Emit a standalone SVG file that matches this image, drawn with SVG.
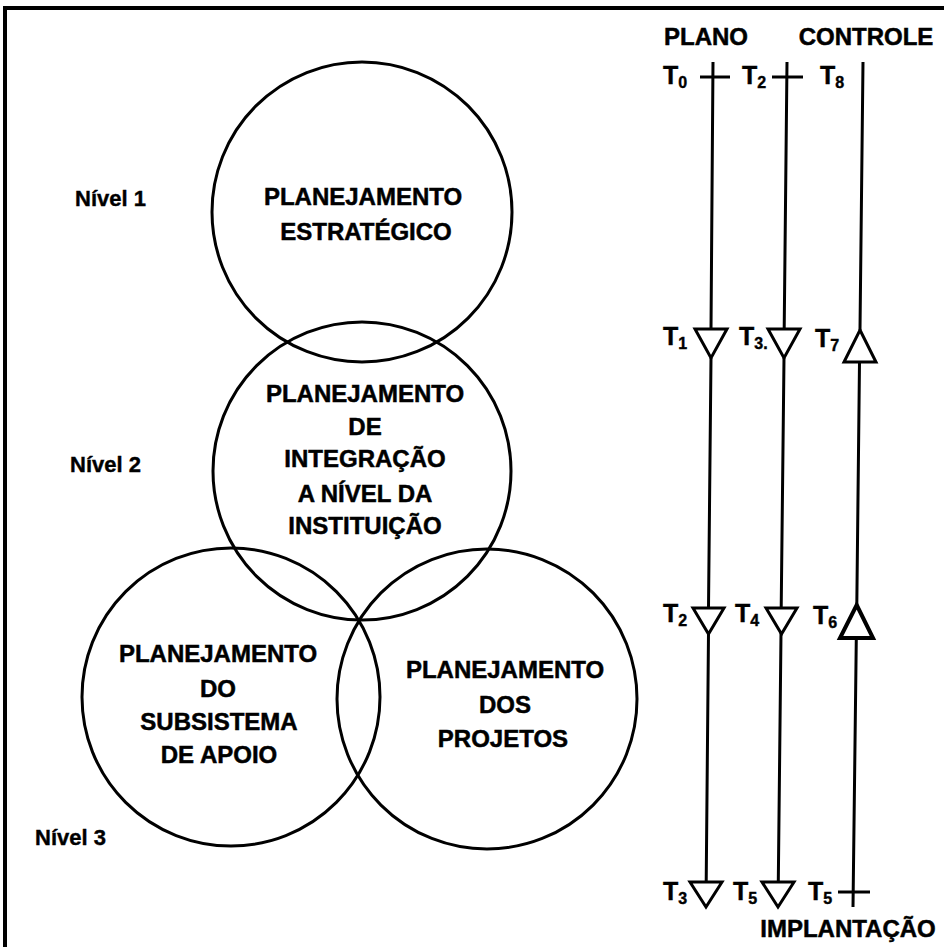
<svg xmlns="http://www.w3.org/2000/svg" width="944" height="947" viewBox="0 0 944 947">
<style>
.frame{stroke:#000;stroke-width:4;fill:none}
.c{fill:none;stroke:#000;stroke-width:3}
.t{font-family:"Liberation Sans",Arial,sans-serif;font-weight:bold;font-size:24px;fill:#000;stroke:#000;stroke-width:0.5;text-anchor:middle}
.lv{font-family:"Liberation Sans",Arial,sans-serif;font-weight:bold;font-size:22px;fill:#000;stroke:#000;stroke-width:0.4}
.tl{font-family:"Liberation Sans",Arial,sans-serif;font-weight:bold;font-size:25px;fill:#000;stroke:#000;stroke-width:0.4}
.sub{font-size:16px}
.ln{stroke:#000;stroke-width:3;fill:none}
.tri{fill:#fff;stroke:#000;stroke-width:3;stroke-linejoin:miter}
.tri2{fill:#fff;stroke:#000;stroke-width:4;stroke-linejoin:miter}
</style>
<rect width="944" height="947" fill="#fff"/>
<path class="frame" d="M5,947 V8 H944"/>

<g id="nivel-labels">
<text class="lv" x="75" y="206">Nível 1</text>
<text class="lv" x="70" y="472">Nível 2</text>
<text class="lv" x="35" y="845">Nível 3</text>
</g>

<g id="estrategico">
<circle class="c" cx="362" cy="212" r="150"/>
<text class="t" x="363" y="205">PLANEJAMENTO</text>
<text class="t" x="366" y="240">ESTRATÉGICO</text>
</g>

<g id="integracao">
<circle class="c" cx="362" cy="471" r="149"/>
<text class="t" x="365" y="402">PLANEJAMENTO</text>
<text class="t" x="365" y="435">DE</text>
<text class="t" x="365" y="467">INTEGRAÇÃO</text>
<text class="t" x="365" y="502">A NÍVEL DA</text>
<text class="t" x="365" y="534">INSTITUIÇÃO</text>
</g>

<g id="subsistema">
<circle class="c" cx="231" cy="697" r="149"/>
<text class="t" x="218" y="662">PLANEJAMENTO</text>
<text class="t" x="218" y="697">DO</text>
<text class="t" x="219" y="730">SUBSISTEMA</text>
<text class="t" x="219" y="763">DE APOIO</text>
</g>

<g id="projetos">
<circle class="c" cx="487" cy="699" r="150"/>
<text class="t" x="505" y="678">PLANEJAMENTO</text>
<text class="t" x="505" y="713">DOS</text>
<text class="t" x="503" y="747">PROJETOS</text>
</g>

<g id="headers">
<text class="t" x="706" y="45">PLANO</text>
<text class="t" x="866" y="45">CONTROLE</text>
<text class="t" x="848" y="937">IMPLANTAÇÃO</text>
</g>

<g id="connectors">
<path class="ln" d="M713,62 L711,329 M711,358 L708.5,608 M708.5,633 L706.2,882"/>
<path class="ln" d="M700,77 H730"/>
<polygon class="tri" points="695,329 727,329 711,358"/>
<polygon class="tri" points="693,608 724,608 708.5,634"/>
<polygon class="tri" points="690,882 722,882 706,907"/>
<path class="ln" d="M787,62 L784.2,329 M784,358 L781.2,608 M781,633 L778.3,882"/>
<path class="ln" d="M772,77 H803"/>
<polygon class="tri" points="768,329 800,329 784,358"/>
<polygon class="tri" points="766,608 797,608 781.5,634"/>
<polygon class="tri" points="762,882 794,882 778,907"/>
<path class="ln" d="M863,62 L860,330 M859.5,362 L856.8,605 M856.3,638 L853,907"/>
<path class="ln" d="M838,892 H870"/>
<polygon class="tri" points="860,330 876,362 844,362"/>
<polygon class="tri2" points="856.7,605 873,638 840,638"/>
</g>

<g id="time-labels">
<text class="tl" x="663" y="84">T<tspan class="sub" dy="4">0</tspan></text>
<text class="tl" x="742" y="84">T<tspan class="sub" dy="4">2</tspan></text>
<text class="tl" x="820" y="84">T<tspan class="sub" dy="4">8</tspan></text>
<text class="tl" x="663" y="345">T<tspan class="sub" dy="4">1</tspan></text>
<text class="tl" x="739" y="345">T<tspan class="sub" dy="4">3.</tspan></text>
<text class="tl" x="815" y="347">T<tspan class="sub" dy="4">7</tspan></text>
<text class="tl" x="663" y="622">T<tspan class="sub" dy="4">2</tspan></text>
<text class="tl" x="735" y="622">T<tspan class="sub" dy="4">4</tspan></text>
<text class="tl" x="813" y="624">T<tspan class="sub" dy="4">6</tspan></text>
<text class="tl" x="663" y="900">T<tspan class="sub" dy="4">3</tspan></text>
<text class="tl" x="733" y="900">T<tspan class="sub" dy="4">5</tspan></text>
<text class="tl" x="808" y="900">T<tspan class="sub" dy="4">5</tspan></text>
</g>
</svg>
